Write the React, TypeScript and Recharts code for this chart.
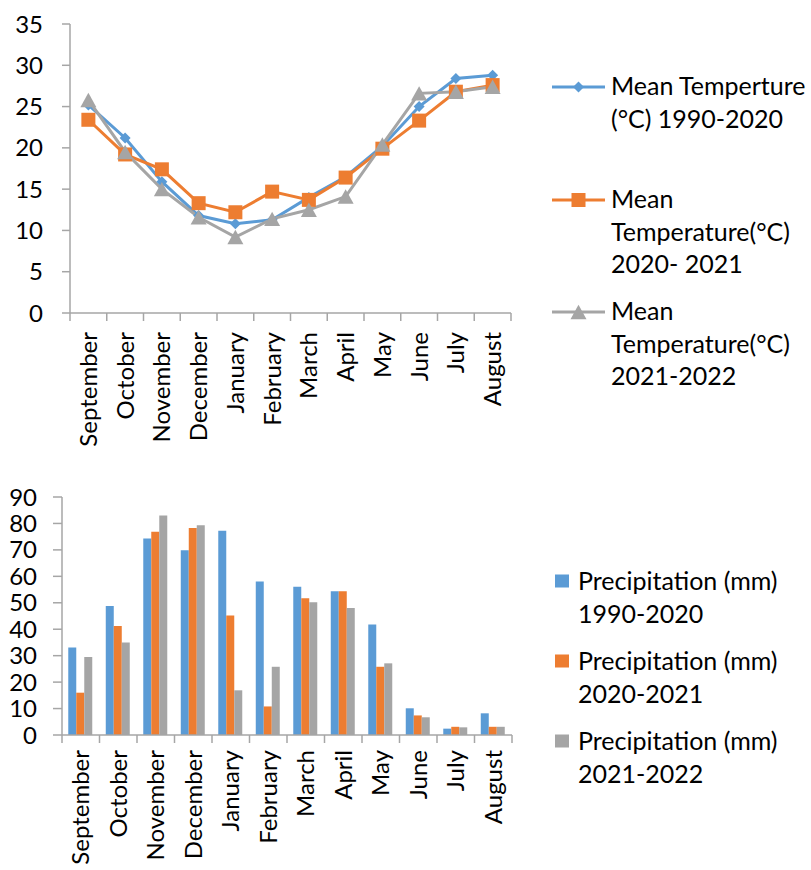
import React from "react";
import { LineChart, Line, BarChart, Bar, XAxis, YAxis } from "recharts";

const months = [
  "September", "October", "November", "December", "January", "February",
  "March", "April", "May", "June", "July", "August",
];

// mean temperature, °C
const temp1990 = [25.2, 21.2, 15.9, 11.8, 10.8, 11.3, 14.0, 16.5, 20.2, 25.0, 28.4, 28.8];
const temp2020 = [23.4, 19.2, 17.4, 13.3, 12.2, 14.7, 13.7, 16.4, 19.9, 23.3, 26.8, 27.6];
const temp2021 = [25.8, 19.5, 15.0, 11.6, 9.2, 11.4, 12.5, 14.1, 20.4, 26.6, 26.8, 27.4];

// precipitation, mm
const rain1990 = [33.1, 48.8, 74.3, 69.9, 77.2, 58.0, 56.1, 54.4, 41.8, 10.1, 2.4, 8.2];
const rain2020 = [16.0, 41.2, 76.9, 78.3, 45.2, 10.8, 51.7, 54.4, 25.8, 7.4, 3.1, 3.1];
const rain2021 = [29.5, 35.0, 83.0, 79.3, 16.9, 25.8, 50.2, 48.0, 27.1, 6.7, 2.9, 3.1];

const tempTicks = [0, 5, 10, 15, 20, 25, 30, 35];
const rainTicks = [0, 10, 20, 30, 40, 50, 60, 70, 80, 90];

const tempLegend = [
  ["Mean Temperture", "(°C) 1990-2020"],
  ["Mean", "Temperature(°C)", "2020- 2021"],
  ["Mean", "Temperature(°C)", "2021-2022"],
];
const rainLegend = [
  ["Precipitation (mm)", "1990-2020"],
  ["Precipitation (mm)", "2020-2021"],
  ["Precipitation (mm)", "2021-2022"],
];

const tempData = months.map((m, i) => ({
  month: m,
  t1990: temp1990[i],
  t2020: temp2020[i],
  t2021: temp2021[i],
}));
const rainData = months.map((m, i) => ({
  month: m,
  r1990: rain1990[i],
  r2020: rain2020[i],
  r2021: rain2021[i],
}));

const BLUE = "#5B9BD5";
const ORANGE = "#ED7D31";
const GRAY = "#A5A5A5";
const AXIS = "#A6A6A6";
const FONT = "Lato, Carlito, Calibri, sans-serif";
const AXIS_FONT = 24;
const LEGEND_FONT = 25;

const W = 811;

// top chart geometry
const T_TOP = 24;
const T_PLOT_H = 289;
const T_H = 465;
const T_LEFT = 70;
const T_RIGHT = 300;
const T_BAND = (W - T_LEFT - T_RIGHT) / months.length;

// bottom chart geometry
const B_OFFSET = 470;
const B_TOP = 27;
const B_PLOT_H = 238;
const B_H = 400;
const B_LEFT = 62;
const B_RIGHT = 299;
const B_BAND = (W - B_LEFT - B_RIGHT) / months.length;

function Diamond({ cx, cy, r = 5.5, fill }: any) {
  if (cx == null || cy == null) return null;
  return (
    <path
      d={`M${cx},${cy - r}L${cx + r},${cy}L${cx},${cy + r}L${cx - r},${cy}Z`}
      fill={fill}
    />
  );
}

function Square({ cx, cy, s = 7, fill }: any) {
  if (cx == null || cy == null) return null;
  return <rect x={cx - s} y={cy - s} width={s * 2} height={s * 2} fill={fill} />;
}

function Triangle({ cx, cy, s = 8, fill }: any) {
  if (cx == null || cy == null) return null;
  const h = s * 0.9;
  return (
    <path
      d={`M${cx},${cy - h}L${cx + s},${cy + h}L${cx - s},${cy + h}Z`}
      fill={fill}
    />
  );
}

// rotated month label plus a tick mark on the category boundary
function MonthTick({ x, y, payload, index, band, gap, last }: any) {
  const axisY = y - gap;
  const left = x - band / 2;
  return (
    <g>
      <line x1={left} y1={axisY} x2={left} y2={axisY + 8} stroke={AXIS} strokeWidth={1.5} />
      {index === last && (
        <line
          x1={x + band / 2}
          y1={axisY}
          x2={x + band / 2}
          y2={axisY + 8}
          stroke={AXIS}
          strokeWidth={1.5}
        />
      )}
      <text
        x={x}
        y={y}
        dy="0.35em"
        transform={`rotate(-90, ${x}, ${y})`}
        textAnchor="end"
        fill="#000"
        fontFamily={FONT}
        fontSize={AXIS_FONT}
      >
        {payload.value}
      </text>
    </g>
  );
}

function LegendLines({ lines, x, y }: { lines: string[]; x: number; y: number }) {
  return (
    <text x={x} y={y} fontFamily={FONT} fontSize={LEGEND_FONT} fill="#000">
      {lines.map((l, i) => (
        <tspan key={i} x={x} dy={i === 0 ? 0 : 32.5}>
          {l}
        </tspan>
      ))}
    </text>
  );
}

function TempLegend() {
  const rows = [
    { y: 87, color: BLUE, Marker: Diamond },
    { y: 200, color: ORANGE, Marker: Square },
    { y: 312, color: GRAY, Marker: Triangle },
  ];
  return (
    <svg width={W} height={T_H} style={{ position: "absolute", left: 0, top: 0 }}>
      {rows.map((r, i) => (
        <g key={i}>
          <line x1={552} y1={r.y} x2={605} y2={r.y} stroke={r.color} strokeWidth={3} />
          <r.Marker cx={578.5} cy={r.y} fill={r.color} />
          <LegendLines lines={tempLegend[i]} x={611} y={r.y + 8} />
        </g>
      ))}
    </svg>
  );
}

function RainLegend() {
  const rows = [
    { y: 581, color: BLUE },
    { y: 661, color: ORANGE },
    { y: 741, color: GRAY },
  ];
  return (
    <svg width={W} height={870} style={{ position: "absolute", left: 0, top: 0 }}>
      {rows.map((r, i) => (
        <g key={i}>
          <rect x={555} y={r.y - 6.5} width={14} height={13} fill={r.color} />
          <LegendLines lines={rainLegend[i]} x={578} y={r.y + 9} />
        </g>
      ))}
    </svg>
  );
}

const tickStyle = { fill: "#000", fontFamily: FONT, fontSize: AXIS_FONT };

export default function App() {
  const last = months.length - 1;
  return (
    <div style={{ position: "absolute", left: 0, top: 0, width: W, height: 870, background: "#fff", overflow: "hidden" }}>
      <div style={{ position: "absolute", left: 0, top: 0 }}>
        <LineChart
          width={W}
          height={T_H}
          data={tempData}
          margin={{ top: T_TOP, right: T_RIGHT, bottom: 0, left: 0 }}
        >
          <XAxis
            dataKey="month"
            scale="band"
            interval={0}
            height={T_H - T_TOP - T_PLOT_H}
            axisLine={{ stroke: AXIS, strokeWidth: 1.5 }}
            tickLine={false}
            tickSize={0}
            tickMargin={19}
            tick={<MonthTick band={T_BAND} gap={19} last={last} />}
          />
          <YAxis
            width={T_LEFT}
            domain={[0, 35]}
            ticks={tempTicks}
            interval={0}
            axisLine={{ stroke: AXIS, strokeWidth: 1.5 }}
            tickLine={{ stroke: AXIS, strokeWidth: 1.5 }}
            tickSize={8}
            tickMargin={19}
            tick={tickStyle}
          />
          <Line
            dataKey="t1990"
            stroke={BLUE}
            strokeWidth={3}
            isAnimationActive={false}
            dot={(p: any) => <Diamond key={`b${p.index}`} cx={p.cx} cy={p.cy} fill={BLUE} />}
            activeDot={false}
          />
          <Line
            dataKey="t2020"
            stroke={ORANGE}
            strokeWidth={3}
            isAnimationActive={false}
            dot={(p: any) => <Square key={`o${p.index}`} cx={p.cx} cy={p.cy} fill={ORANGE} />}
            activeDot={false}
          />
          <Line
            dataKey="t2021"
            stroke={GRAY}
            strokeWidth={3}
            isAnimationActive={false}
            dot={(p: any) => <Triangle key={`g${p.index}`} cx={p.cx} cy={p.cy} fill={GRAY} />}
            activeDot={false}
          />
        </LineChart>
      </div>
      <TempLegend />

      <div style={{ position: "absolute", left: 0, top: B_OFFSET }}>
        <BarChart
          width={W}
          height={B_H}
          data={rainData}
          margin={{ top: B_TOP, right: B_RIGHT, bottom: 0, left: 0 }}
          barCategoryGap="16.7%"
          barGap={0}
        >
          <XAxis
            dataKey="month"
            interval={0}
            height={B_H - B_TOP - B_PLOT_H}
            axisLine={{ stroke: AXIS, strokeWidth: 1.5 }}
            tickLine={false}
            tickSize={0}
            tickMargin={15}
            tick={<MonthTick band={B_BAND} gap={15} last={last} />}
          />
          <YAxis
            width={B_LEFT}
            domain={[0, 90]}
            ticks={rainTicks}
            interval={0}
            axisLine={{ stroke: AXIS, strokeWidth: 1.5 }}
            tickLine={{ stroke: AXIS, strokeWidth: 1.5 }}
            tickSize={9}
            tickMargin={16}
            tick={tickStyle}
          />
          <Bar dataKey="r1990" fill={BLUE} isAnimationActive={false} />
          <Bar dataKey="r2020" fill={ORANGE} isAnimationActive={false} />
          <Bar dataKey="r2021" fill={GRAY} isAnimationActive={false} />
        </BarChart>
      </div>
      <RainLegend />
    </div>
  );
}
